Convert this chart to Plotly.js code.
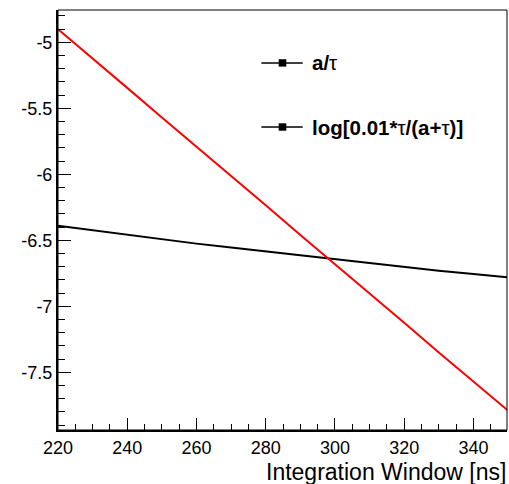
<!DOCTYPE html>
<html>
<head>
<meta charset="utf-8">
<script src="https://cdn.plot.ly/plotly-3.0.1.min.js"></script>
<style>html,body{margin:0;padding:0;background:#fff;}#chart{width:509px;height:484px;}</style>
</head>
<body>
<div id="chart"></div>
<script>
// Integration window [ns]
var windowNs = [220, 230, 240, 250, 260, 270, 280, 290, 300, 310, 320, 330, 340, 350];
// a/tau (black)
var aOverTau = [-6.39, -6.425, -6.46, -6.49, -6.525, -6.555, -6.585, -6.615, -6.645, -6.675, -6.70, -6.73, -6.755, -6.78];
// log[0.01*tau/(a+tau)] (red)
var logTerm = [-4.90, -5.12, -5.345, -5.57, -5.79, -6.015, -6.235, -6.46, -6.68, -6.905, -7.125, -7.35, -7.57, -7.79];
var xTickVals = [220, 240, 260, 280, 300, 320, 340];
var yTickVals = [-7.5, -7, -6.5, -6, -5.5, -5];
var yTickText = ['-7.5', '-7', '-6.5', '-6', '-5.5', '-5'];
var legendLabels = ['<b>a/</b>\u03c4', '<b>log[0.01*</b>\u03c4<b>/(a+</b>\u03c4<b>)]</b>'];
var xTitle = 'Integration Window [ns]';

var font = 'Liberation Sans, Arial, sans-serif';

var traces = [
  {x: windowNs, y: aOverTau, type: 'scatter', mode: 'lines', line: {color: '#000000', width: 2}, showlegend: false},
  {x: windowNs, y: logTerm, type: 'scatter', mode: 'lines', line: {color: '#ff0000', width: 2}, showlegend: false}
];

var legY = [0.874, 0.7214];
var shapes = [
  {type: 'rect', xref: 'paper', yref: 'paper', x0: 0, x1: 1, y0: 0, y1: 1, line: {color: '#000', width: 1}}
];
var annotations = [];
legY.forEach(function (ly, i) {
  shapes.push({type: 'line', xref: 'paper', yref: 'paper', x0: 0.453, x1: 0.545, y0: ly, y1: ly, line: {color: '#000', width: 1.5}});
  shapes.push({type: 'rect', xref: 'paper', yref: 'paper', x0: 0.4915, x1: 0.5085, y0: ly - 0.0088, y1: ly + 0.0088, fillcolor: '#000', line: {color: '#000', width: 0}});
  annotations.push({xref: 'paper', yref: 'paper', x: 0.562, y: ly, xanchor: 'left', yanchor: 'middle', showarrow: false,
    text: legendLabels[i], font: {family: font, size: 20.5, color: '#000'}});
});
annotations.push({xref: 'paper', yref: 'paper', x: 1.0, y: -0.1, xanchor: 'right', yanchor: 'middle', showarrow: false,
  borderpad: 0, text: xTitle, font: {family: font, size: 23, color: '#000'}});

var layout = {
  width: 509, height: 484,
  margin: {l: 58, r: 2, t: 10, b: 54, pad: 0},
  paper_bgcolor: '#fff', plot_bgcolor: '#fff',
  font: {family: font, size: 18, color: '#000'},
  xaxis: {
    range: [220, 349.7], showgrid: false, zeroline: false,
    showline: true, linecolor: '#000', linewidth: 2,
    ticks: 'inside', ticklen: 12, tickwidth: 1, tickcolor: '#000',
    tickmode: 'array', tickvals: xTickVals,
    tickfont: {family: font, size: 18, color: '#000'},
    minor: {ticks: 'inside', ticklen: 6, tickwidth: 1, tickcolor: '#000', dtick: 5, tick0: 220, showgrid: false}
  },
  yaxis: {
    range: [-7.937, -4.755], showgrid: false, zeroline: false,
    showline: true, linecolor: '#000', linewidth: 2,
    ticks: 'inside', ticklen: 13, tickwidth: 1, tickcolor: '#000',
    tickmode: 'array', tickvals: yTickVals, ticktext: yTickText,
    tickfont: {family: font, size: 18, color: '#000'},
    minor: {ticks: 'inside', ticklen: 7, tickwidth: 1, tickcolor: '#000', dtick: 0.1, tick0: -5, showgrid: false}
  },
  shapes: shapes,
  annotations: annotations,
  showlegend: false
};

Plotly.newPlot('chart', traces, layout, {displayModeBar: false, staticPlot: true});
</script>
</body>
</html>
